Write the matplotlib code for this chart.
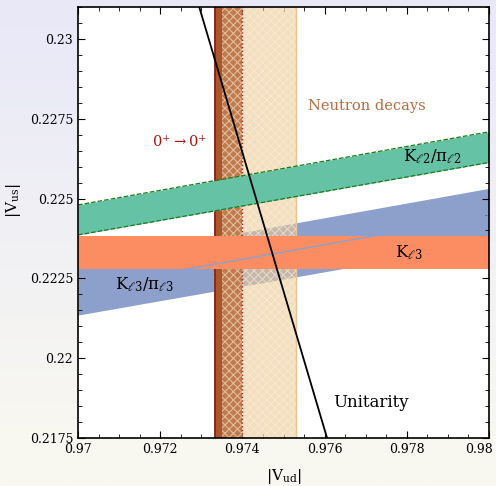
import numpy as np
import matplotlib
matplotlib.use("Agg")
import matplotlib.pyplot as plt
from matplotlib.ticker import MultipleLocator, FuncFormatter

plt.rcParams['font.family'] = 'DejaVu Serif'
plt.rcParams['mathtext.fontset'] = 'dejavuserif'
plt.rcParams['hatch.linewidth'] = 0.8

# data
vud_ends = [0.970, 0.980]
kl2_lo = [0.22386, 0.22613]
kl2_hi = [0.22480, 0.22709]
kl3pi_lo = [0.22135, 0.22361]
kl3pi_hi = [0.22302, 0.22532]
kl3_lo, kl3_hi = 0.22279, 0.22382
superallowed = [0.97334, 0.97351]
neutron_inner = [0.97330, 0.97400]
neutron_outer = [0.97330, 0.97531]
unit_vud = [0.97295, 0.97606]
unit_vus = [0.2310, 0.2175]

fig = plt.figure(figsize=(4.96, 4.86), dpi=100)

# gradient background
bg = fig.add_axes([0, 0, 1, 1], zorder=-10)
grad = np.linspace(0, 1, 256)[:, None]
c_top = np.array([232, 232, 248]) / 255.
c_bot = np.array([250, 249, 240]) / 255.
img = c_top[None, None, :] * (1 - grad[:, :, None]) + c_bot[None, None, :] * grad[:, :, None]
bg.imshow(img, aspect='auto', extent=[0, 1, 0, 1])
bg.axis('off')

ax = fig.add_axes([78/496, 48/486, 411/496, 431/486])
ax.set_facecolor('white')

# K_l3/pi_l3 band
ax.fill_between(vud_ends, kl3pi_lo, kl3pi_hi, color='#8da0cb', lw=0, zorder=1)

# neutron decays
ax.fill_betweenx([0.21, 0.24], neutron_outer[0], neutron_outer[1], facecolor='#ebc894',
                 edgecolor='#fbeedb', hatch='xxxx', lw=0, alpha=0.6, zorder=2)
ax.axvline(neutron_outer[1], color='#e6c494', lw=1, zorder=2)
ax.fill_betweenx([0.21, 0.24], neutron_inner[0], neutron_inner[1], facecolor='#bf7a4f',
                 edgecolor='#e3bb98', hatch='xxxx', lw=0, zorder=3)
ax.axvline(neutron_inner[1], color='#b22222', lw=1, ls=':', zorder=3)

# superallowed 0+ -> 0+
ax.axvspan(superallowed[0], superallowed[1], color='#a9572c', lw=0, zorder=4)
ax.axvline(superallowed[0], color='#8b1a1a', lw=1.2, zorder=4)

# K_l3 band
ax.axhspan(kl3_lo, kl3_hi, color='#fc8d62', lw=0, zorder=5)
ax.plot(vud_ends, [(a + b) / 2 for a, b in zip(kl3pi_lo, kl3pi_hi)], color='#8da0cb', lw=1, zorder=6)

# K_l2/pi_l2 band
ax.fill_between(vud_ends, kl2_lo, kl2_hi, color='#66c2a5', lw=0, zorder=7)
ax.plot(vud_ends, kl2_lo, color='#1b7a1b', lw=0.9, ls='--', zorder=7)
ax.plot(vud_ends, kl2_hi, color='#1b7a1b', lw=0.9, ls='--', zorder=7)

# unitarity
ax.plot(unit_vud, unit_vus, color='black', lw=1.3, zorder=8)

ax.text(0.97702, 0.22790, 'Neutron decays', color='#b86b3e', fontsize=10.5, ha='center', va='center', zorder=9)
ax.text(0.97246, 0.22677, r'$0^{+}\rightarrow 0^{+}$', color='#a31515', fontsize=10.5, ha='center', va='center', zorder=9)
ax.text(0.97863, 0.22630, r'K$_{\ell 2}$/π$_{\ell 2}$', fontsize=12, ha='center', va='center', zorder=9)
ax.text(0.97805, 0.22329, r'K$_{\ell 3}$', fontsize=12, ha='center', va='center', zorder=9)
ax.text(0.97161, 0.22229, r'K$_{\ell 3}$/π$_{\ell 3}$', fontsize=12, ha='center', va='center', zorder=9)
ax.text(0.97712, 0.21862, 'Unitarity', fontsize=12, ha='center', va='center', zorder=9)

ax.set_xlim(0.97, 0.98)
ax.set_ylim(0.2175, 0.231)
ax.xaxis.set_major_locator(MultipleLocator(0.002))
ax.xaxis.set_minor_locator(MultipleLocator(0.0005))
ax.yaxis.set_major_locator(MultipleLocator(0.0025))
ax.yaxis.set_minor_locator(MultipleLocator(0.0005))
# last x label is placed by hand so it stays inside the figure
ax.xaxis.set_major_formatter(FuncFormatter(lambda v, p: '' if v > 0.9799 else f'{v:g}'))
ax.yaxis.set_major_formatter(FuncFormatter(lambda v, p: f'{v:g}'))
ax.annotate('0.98', xy=(0.98, 0), xycoords=('data', 'axes fraction'), xytext=(3, -3.5),
            textcoords='offset points', ha='right', va='top', fontsize=9)
ax.tick_params(which='both', direction='in', top=True, right=True, labelsize=9)
ax.tick_params(which='major', length=5)
ax.tick_params(which='minor', length=3)
for s in ax.spines.values():
    s.set_linewidth(1.2)
    s.set_zorder(10)

ax.set_xlabel(r'$|\mathrm{V}_{\mathrm{ud}}|$', fontsize=11)
ax.set_ylabel(r'$|\mathrm{V}_{\mathrm{us}}|$', fontsize=11)
ax.xaxis.set_label_coords(0.5, -0.068)
ax.yaxis.set_label_coords(-0.135, 0.55)

fig.savefig('out.png', dpi=100)
